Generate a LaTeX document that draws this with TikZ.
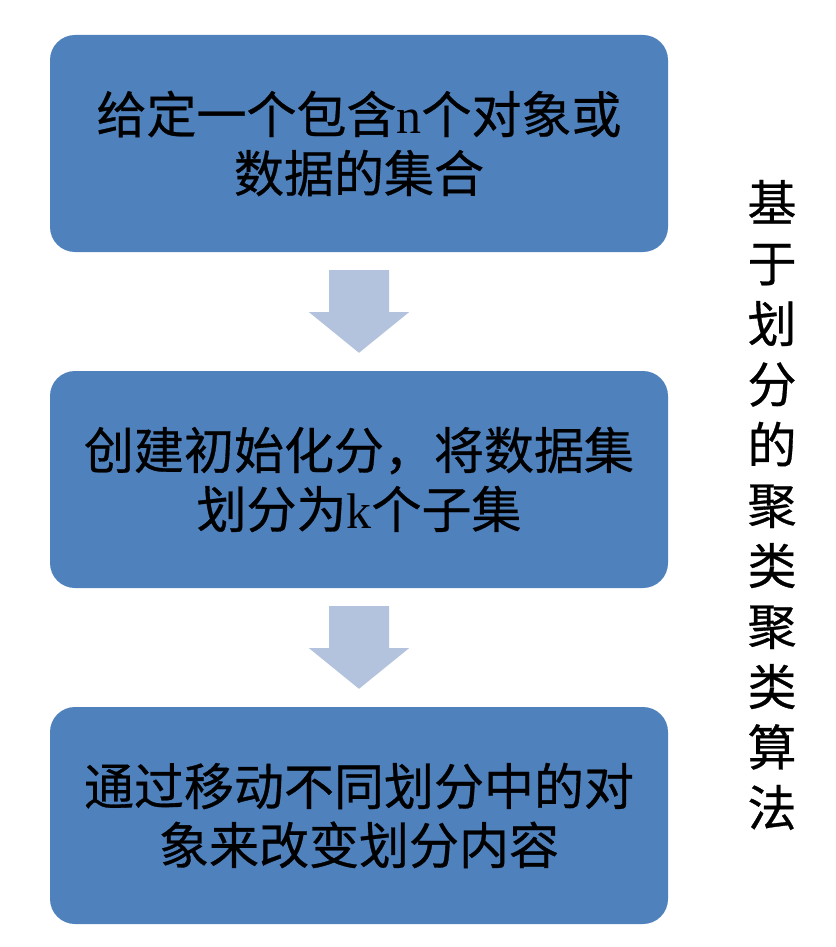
\documentclass[tikz,border=0pt]{standalone}
\usepackage{fontspec}
\setmainfont{Liberation Serif}
\newfontfamily\cjk[FakeBold=0.6]{Noto Sans CJK SC}
\usetikzlibrary{calc}
\definecolor{boxblue}{HTML}{4F81BD}
\definecolor{arrowblue}{HTML}{B3C3DE}
\newcommand{\lat}[1]{{\rmfamily #1}}
\tikzset{
  x=1pt,y=-1pt,
  stepbox/.style={fill=boxblue, rounded corners=25pt, minimum width=618pt, minimum height=217pt,
    inner sep=0pt, align=center, text=black,
    font=\cjk\fontsize{50}{59}\selectfont},
  downarrow/.style={fill=arrowblue, draw=none},
  sidetext/.style={inner sep=0pt, align=center, text=black, font=\cjk\fontsize{49}{60.5}\selectfont}
}
\begin{document}
\begin{tikzpicture}
\useasboundingbox (0,0) rectangle (835,947);
\node[stepbox] (b1) at (359,143.5) {给定一个包含\lat{n}个对象或\\数据的集合};
\node[stepbox] (b2) at (359,479.5) {创建初始化分，将数据集\\划分为\lat{k}个子集};
\node[stepbox] (b3) at (359,815.5) {通过移动不同划分中的对\\象来改变划分内容};
\foreach \a/\b in {b1/b2,b2/b3}{
  \fill[downarrow] ($(\a.south)+(-30,18)$) -- ($(\a.south)+(30,18)$) -- ($(\a.south)+(30,60)$)
    -- ($(\a.south)+(50,60)$) -- ($(\b.north)+(0,-18)$) -- ($(\a.south)+(-50,60)$)
    -- ($(\a.south)+(-30,60)$) -- cycle;
}
\node[sidetext] (side) at (772,505) {基\\于\\划\\分\\的\\聚\\类\\聚\\类\\算\\法};
\end{tikzpicture}
\end{document}
